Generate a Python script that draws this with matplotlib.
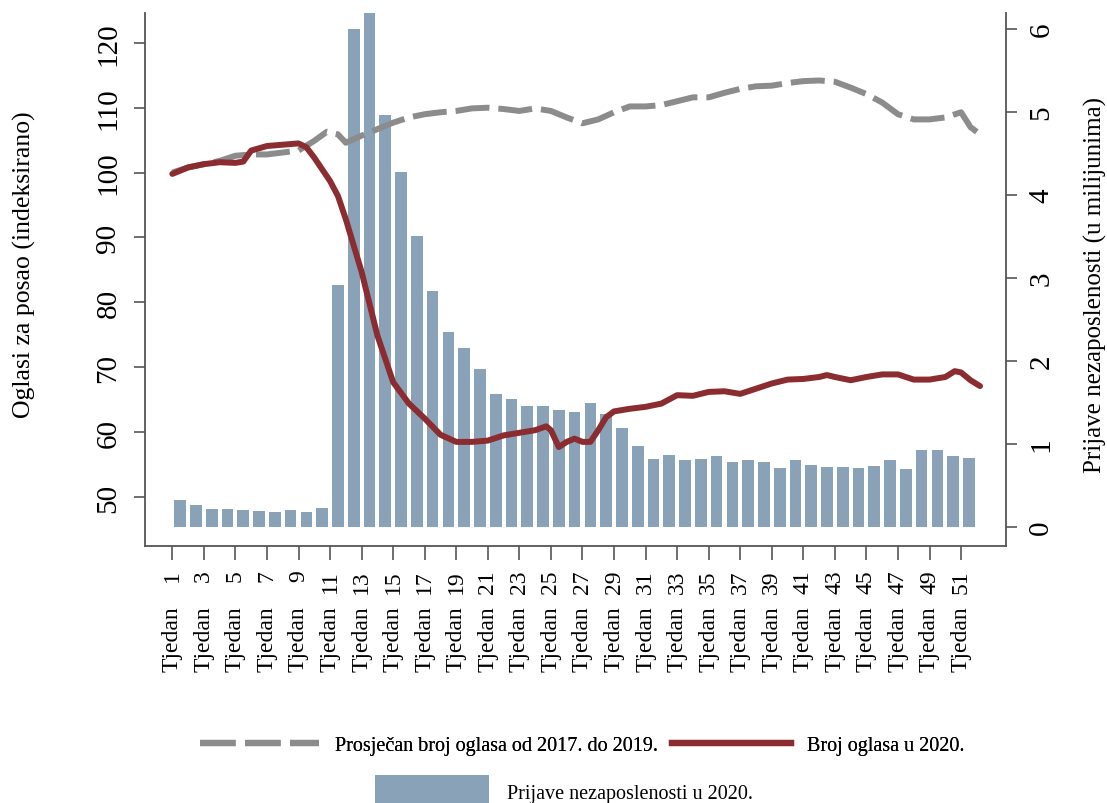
import matplotlib
matplotlib.use("Agg")
import matplotlib.pyplot as plt
from matplotlib.lines import Line2D
from matplotlib.patches import Patch

plt.rcParams['font.family'] = ['Liberation Serif', 'DejaVu Serif']

# tjedni podaci - prijave nezaposlenosti (u milijunima), tjedni 1..51
tjedni = list(range(1, 52))
prijave = [0.32, 0.26, 0.21, 0.21, 0.20, 0.19, 0.18, 0.20, 0.18, 0.23,
           2.91, 6.00, 6.30, 4.96, 4.27, 3.50, 2.84, 2.35, 2.16, 1.90,
           1.60, 1.54, 1.45, 1.45, 1.41, 1.38, 1.49, 1.36, 1.19, 0.97,
           0.82, 0.87, 0.81, 0.82, 0.85, 0.78, 0.81, 0.78, 0.71, 0.81,
           0.75, 0.72, 0.72, 0.71, 0.73, 0.81, 0.70, 0.93, 0.92, 0.85,
           0.83]

# broj oglasa u 2020. (indeksirano)
x_2020 = [1, 2, 3, 4, 5, 5.5, 6, 7, 8, 9, 9.5, 10, 11, 11.5, 12, 13, 14, 15,
          16, 17, 18, 19, 20, 21, 22, 23, 24, 24.7, 25, 25.5, 26, 26.5, 27,
          27.5, 28, 28.5, 29, 30, 31, 32, 33, 34, 35, 36, 37, 38, 39, 40, 41,
          42, 42.5, 43, 44, 45, 46, 47, 48, 49, 50, 50.6, 51, 51.6, 52.2]
oglasi_2020 = [99.8, 100.8, 101.3, 101.6, 101.5, 101.7, 103.4, 104.1, 104.3,
               104.5, 103.9, 102.3, 98.7, 96.4, 92.8, 84.7, 74.9, 67.7, 64.4,
               62.1, 59.6, 58.5, 58.5, 58.7, 59.5, 59.9, 60.3, 60.9, 60.3,
               57.7, 58.5, 59.0, 58.5, 58.5, 60.3, 62.3, 63.2, 63.6, 63.9,
               64.4, 65.7, 65.6, 66.2, 66.3, 65.9, 66.7, 67.5, 68.1, 68.2,
               68.5, 68.8, 68.5, 68.0, 68.5, 68.9, 68.9, 68.1, 68.1, 68.5,
               69.4, 69.2, 68.0, 67.1]

# prosjek 2017.-2019.
x_prosjek = [1, 2, 3, 4, 5, 6, 7, 8, 9, 10, 10.8, 11.5, 12, 13, 14, 15, 16,
             17, 18, 19, 20, 21, 22, 23, 24, 25, 26, 27, 28, 29, 30, 31, 32,
             33, 34, 35, 36, 37, 38, 39, 40, 41, 42, 43, 44, 45, 46, 47, 48,
             49, 50, 51, 51.6, 52.2]
oglasi_prosjek = [100.0, 100.8, 101.3, 101.8, 102.6, 102.8, 102.8, 103.1,
                  103.4, 104.9, 106.3, 105.9, 104.6, 105.7, 106.7, 107.7,
                  108.5, 109.0, 109.3, 109.5, 109.9, 110.0, 109.8, 109.5,
                  109.9, 109.5, 108.5, 107.6, 108.2, 109.3, 110.2, 110.2,
                  110.4, 111.0, 111.6, 111.6, 112.3, 112.9, 113.3, 113.4,
                  113.8, 114.1, 114.2, 114.0, 113.1, 112.1, 110.8, 109.0,
                  108.2, 108.2, 108.5, 109.3, 107.0, 105.9]

oznake_tjedana = list(range(1, 52, 2))
lijeve_oznake = [50, 60, 70, 80, 90, 100, 110, 120]
desne_oznake = [0, 1, 2, 3, 4, 5, 6]

boja_stupci = '#8aa2b8'
boja_crvena = '#8b2c31'
boja_siva = '#8c8c8c'
crtkano = (0, (5.7, 1.5))

fig = plt.figure(figsize=(11.07, 8.04), dpi=100)
ax = fig.add_axes([0.131, 0.3197, 0.7778, 0.6629])
ax2 = ax.twinx()

# stupci na desnoj osi
ax2.bar([t + 0.5 for t in tjedni], prijave, width=0.74, color=boja_stupci,
        zorder=1)
ax2.set_ylim(-0.23, 6.19)
ax2.set_yticks(desne_oznake)

# linije na lijevoj osi (iznad stupaca)
ax.set_zorder(ax2.get_zorder() + 1)
ax.patch.set_visible(False)
ax.plot(x_prosjek, oglasi_prosjek, color=boja_siva, lw=4.3, linestyle=crtkano)
ax.plot(x_2020, oglasi_2020, color=boja_crvena, lw=4.3,
        solid_capstyle='round')
ax.set_ylim(42.46, 124.6)
ax.set_xlim(-0.73, 53.85)
ax.set_yticks(lijeve_oznake)
ax.set_xticks(oznake_tjedana)
ax.set_xticklabels([str(t) for t in oznake_tjedana], rotation=90,
                   va='top', ha='center')

for a in (ax, ax2):
    a.spines['top'].set_visible(False)
    for s in a.spines.values():
        s.set_color('#555555')
        s.set_linewidth(1.3)
ax.spines['right'].set_visible(False)
ax2.spines['left'].set_visible(False)
ax2.spines['bottom'].set_visible(False)

ax.tick_params(axis='y', direction='out', length=8, width=1.2,
               color='#555555', labelsize=21, pad=9, labelrotation=90)
ax.tick_params(axis='x', direction='out', length=10, width=1.2,
               color='#555555', labelsize=17, pad=7)
ax2.tick_params(axis='y', direction='out', length=8, width=1.2,
                color='#555555', labelsize=21, pad=8, labelrotation=90)
for lbl in ax.get_yticklabels():
    lbl.set_va('center')
for lbl in ax2.get_yticklabels():
    lbl.set_va('center')

# drugi red oznaka na x osi
for t in oznake_tjedana:
    ax.text(t, -0.112, 'Tjedan', transform=ax.get_xaxis_transform(),
            rotation=90, ha='center', va='top', fontsize=17)

fig.text(24 / 1107, 1 - 265 / 804, 'Oglasi za posao (indeksirano)',
         rotation=90, ha='center', va='center', fontsize=18.5)
fig.text(1095 / 1107, 1 - 285 / 804, 'Prijave nezaposlenosti (u milijunima)',
         rotation=90, ha='center', va='center', fontsize=18)

# legenda
h_siva = Line2D([], [], color=boja_siva, lw=4.5, linestyle=crtkano)
h_crvena = Line2D([], [], color=boja_crvena, lw=4.5)
leg1 = fig.legend([h_siva, h_crvena],
                  ['Prosječan broj oglasa od 2017. do 2019.',
                   'Broj oglasa u 2020.'],
                  loc='center', bbox_to_anchor=(582 / 1107, 1 - 746 / 804),
                  ncol=2, frameon=False, fontsize=14.5, handlelength=5.9,
                  handletextpad=0.8, columnspacing=0.7, borderpad=0,
                  borderaxespad=0)
fig.add_artist(leg1)
h_stupci = Patch(facecolor=boja_stupci, edgecolor='none')
fig.legend([h_stupci], ['Prijave nezaposlenosti u 2020.'], loc='center',
           bbox_to_anchor=(564 / 1107, 1 - 793 / 804), frameon=False,
           fontsize=14.5, handlelength=5.7, handleheight=2.2,
           handletextpad=0.9, borderpad=0, borderaxespad=0)

fig.savefig('out.png', dpi=100)
